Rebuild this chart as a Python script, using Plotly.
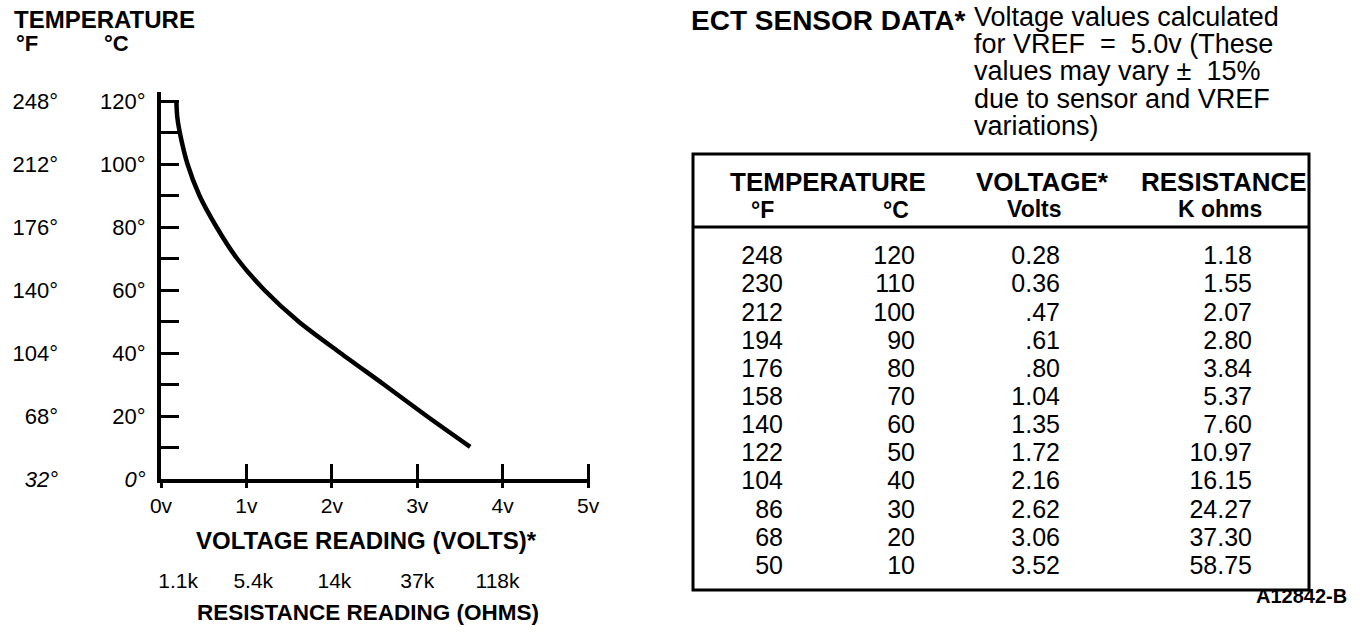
import plotly.graph_objects as go

# ---------------- data ----------------
# curve (voltage vs temperature °C)
curve_volts = [0.18, 0.19, 0.22, 0.31, 0.45, 0.65, 0.89, 1.21, 1.61, 2.10, 2.61, 3.11, 3.62]
curve_temp_c = [120, 115, 110, 100, 90, 80, 70, 60, 50, 40, 30, 20, 10.2]

# axis ticks
temp_c_ticks = [0, 20, 40, 60, 80, 100, 120]
temp_c_minor = [10, 30, 50, 70, 90, 110]
temp_c_labels = ["<i>0°</i>", "20°", "40°", "60°", "80°", "100°", "120°"]
temp_f_labels = ["<i>32°</i>", "68°", "104°", "140°", "176°", "212°", "248°"]
volt_ticks = [0, 1, 2, 3, 4, 5]
volt_labels = ["0v", "1v", "2v", "3v", "4v", "5v"]
res_label_volts = [0.2, 1.08, 2.03, 3.0, 3.94]
res_labels = ["1.1k", "5.4k", "14k", "37k", "118k"]

# table data
table_temp_f = [248, 230, 212, 194, 176, 158, 140, 122, 104, 86, 68, 50]
table_temp_c = [120, 110, 100, 90, 80, 70, 60, 50, 40, 30, 20, 10]
table_volts = [0.28, 0.36, 0.47, 0.61, 0.80, 1.04, 1.35, 1.72, 2.16, 2.62, 3.06, 3.52]
table_kohms = [1.18, 1.55, 2.07, 2.80, 3.84, 5.37, 7.60, 10.97, 16.15, 24.27, 37.30, 58.75]

note_lines = ["Voltage values calculated", "for VREF  =  5.0v (These",
              "values may vary \u00b1  15%", "due to sensor and VREF", "variations)"]

# ---------------- layout helpers ----------------
W, H = 1360, 634
FONT = "Liberation Sans, Arial, Helvetica, sans-serif"


def px(xp):
    return xp / W


def py(yp):
    return 1 - yp / H


# table geometry (pixels)
T_LEFT, T_RIGHT, T_TOP, T_BOT = 693, 1309, 154, 590
ROW0, ROW_STEP = 258, 28.15
col_right = [783, 915, 1060, 1252]


def row_of(yp):
    return (yp - ROW0) / ROW_STEP


def vtxt(v):
    s = f"{v:.2f}"
    return s.lstrip("0") if 0.4 < v < 1 else s


fig = go.Figure()

fig.add_trace(go.Scatter(
    x=curve_volts, y=curve_temp_c, mode="lines",
    line=dict(color="black", width=4.5, shape="spline", smoothing=0.8),
    xaxis="x", yaxis="y", hoverinfo="skip"))

# empty traces so that the overlay axes get drawn
fig.add_trace(go.Scatter(x=[None], y=[None], mode="lines", xaxis="x2", yaxis="y", hoverinfo="skip"))
fig.add_trace(go.Scatter(x=[None], y=[None], mode="lines", xaxis="x3", yaxis="y2", hoverinfo="skip"))

rows = list(range(len(table_temp_f)))
columns = [
    [str(v) for v in table_temp_f],
    [str(v) for v in table_temp_c],
    [vtxt(v) for v in table_volts],
    [f"{v:.2f}" for v in table_kohms],
]
for ci, texts in enumerate(columns):
    fig.add_trace(go.Scatter(
        x=[col_right[ci]] * len(rows), y=rows, mode="text", text=texts,
        textposition="middle left",
        textfont=dict(family=FONT, size=25, color="black"),
        xaxis="x4", yaxis="y4", hoverinfo="skip"))

axis_common = dict(showgrid=False, zeroline=False)

fig.update_layout(
    width=W, height=H,
    margin=dict(l=0, r=0, t=0, b=0, pad=0, autoexpand=False),
    paper_bgcolor="white", plot_bgcolor="white",
    showlegend=False,
    font=dict(family=FONT, color="black"),
    xaxis=dict(
        **axis_common, domain=[px(161), px(590)], range=[0, 5.023], anchor="y",
        showline=True, linecolor="black", linewidth=4,
        ticks="outside", ticklen=5, tickwidth=3, tickcolor="black",
        tickvals=volt_ticks, ticktext=volt_labels,
        tickfont=dict(size=21), ticklabelstandoff=0,
    ),
    xaxis2=dict(
        **axis_common, overlaying="x", anchor="y", side="bottom", range=[0, 5.023],
        ticks="inside", ticklen=15, tickwidth=3, tickcolor="black",
        tickvals=volt_ticks[1:], showticklabels=False, showline=False,
    ),
    xaxis3=dict(
        **axis_common, overlaying="x", anchor="free", position=py(566), side="bottom",
        range=[0, 5.023], ticks="", showline=False,
        tickvals=res_label_volts, ticktext=res_labels, tickfont=dict(size=21),
    ),
    yaxis=dict(
        **axis_common, domain=[py(479), py(92)], range=[0, 122.86], anchor="x",
        showline=True, linecolor="black", linewidth=4,
        ticks="inside", ticklen=18, tickwidth=3, tickcolor="black",
        tickvals=temp_c_ticks, ticktext=temp_c_labels,
        tickfont=dict(size=22), ticklabelstandoff=7,
        minor=dict(tickvals=temp_c_minor, ticks="inside", ticklen=18, tickwidth=3,
                   tickcolor="black", showgrid=False),
    ),
    yaxis2=dict(
        **axis_common, overlaying="y", anchor="free", position=px(58), side="left",
        range=[0, 122.86], showline=False, ticks="",
        tickvals=temp_c_ticks, ticktext=temp_f_labels, tickfont=dict(size=22),
    ),
    xaxis4=dict(
        **axis_common, domain=[px(T_LEFT), px(T_RIGHT)], range=[T_LEFT, T_RIGHT],
        anchor="y4", visible=False,
    ),
    yaxis4=dict(
        **axis_common, domain=[py(T_BOT), py(T_TOP)],
        range=[row_of(T_BOT), row_of(T_TOP)], anchor="x4", visible=False,
    ),
)

ann = []


def add_text(text, xp, yp, size, bold=False, xanchor="left"):
    ann.append(dict(
        text=f"<b>{text}</b>" if bold else text,
        x=px(xp), y=py(yp), xref="paper", yref="paper",
        xanchor=xanchor, yanchor="middle", showarrow=False,
        font=dict(family=FONT, size=size, color="black")))


# left chart headings
add_text("TEMPERATURE", 12, 19, 24, bold=True)
add_text("°F", 14, 43, 22, bold=True)
add_text("°C", 102, 43, 22, bold=True)

# axis titles
add_text("VOLTAGE READING (VOLTS)*", 366, 540, 24, bold=True, xanchor="center")
add_text("RESISTANCE READING (OHMS)", 368, 612, 22.5, bold=True, xanchor="center")

# right heading and note
add_text("ECT SENSOR DATA*", 689, 20, 28, bold=True)
for i, line in enumerate(note_lines):
    add_text(line, 972, 17 + 27.2 * i, 27)

# table header
add_text("TEMPERATURE", 828, 182, 26, bold=True, xanchor="center")
add_text("VOLTAGE*", 1042, 182, 26, bold=True, xanchor="center")
add_text("RESISTANCE", 1224, 182, 26, bold=True, xanchor="center")
add_text("°F", 762, 210, 23, bold=True, xanchor="center")
add_text("°C", 896, 210, 23, bold=True, xanchor="center")
add_text("Volts", 1034, 209, 23, bold=True, xanchor="center")
add_text("K ohms", 1220, 209, 23, bold=True, xanchor="center")

add_text("A12842-B", 1349, 596, 20, bold=True, xanchor="right")

fig.update_layout(annotations=ann)

fig.add_shape(type="rect", xref="paper", yref="paper",
              x0=px(T_LEFT), x1=px(T_RIGHT), y0=py(T_BOT), y1=py(T_TOP),
              line=dict(color="black", width=3))
fig.add_shape(type="line", xref="paper", yref="paper",
              x0=px(T_LEFT), x1=px(T_RIGHT), y0=py(227), y1=py(227),
              line=dict(color="black", width=3))

# remove the browser's default 8 px body margin so the figure fills the window
fig.write_html("out.html", config={"displayModeBar": False},
               post_script="document.body.style.margin='0';")
